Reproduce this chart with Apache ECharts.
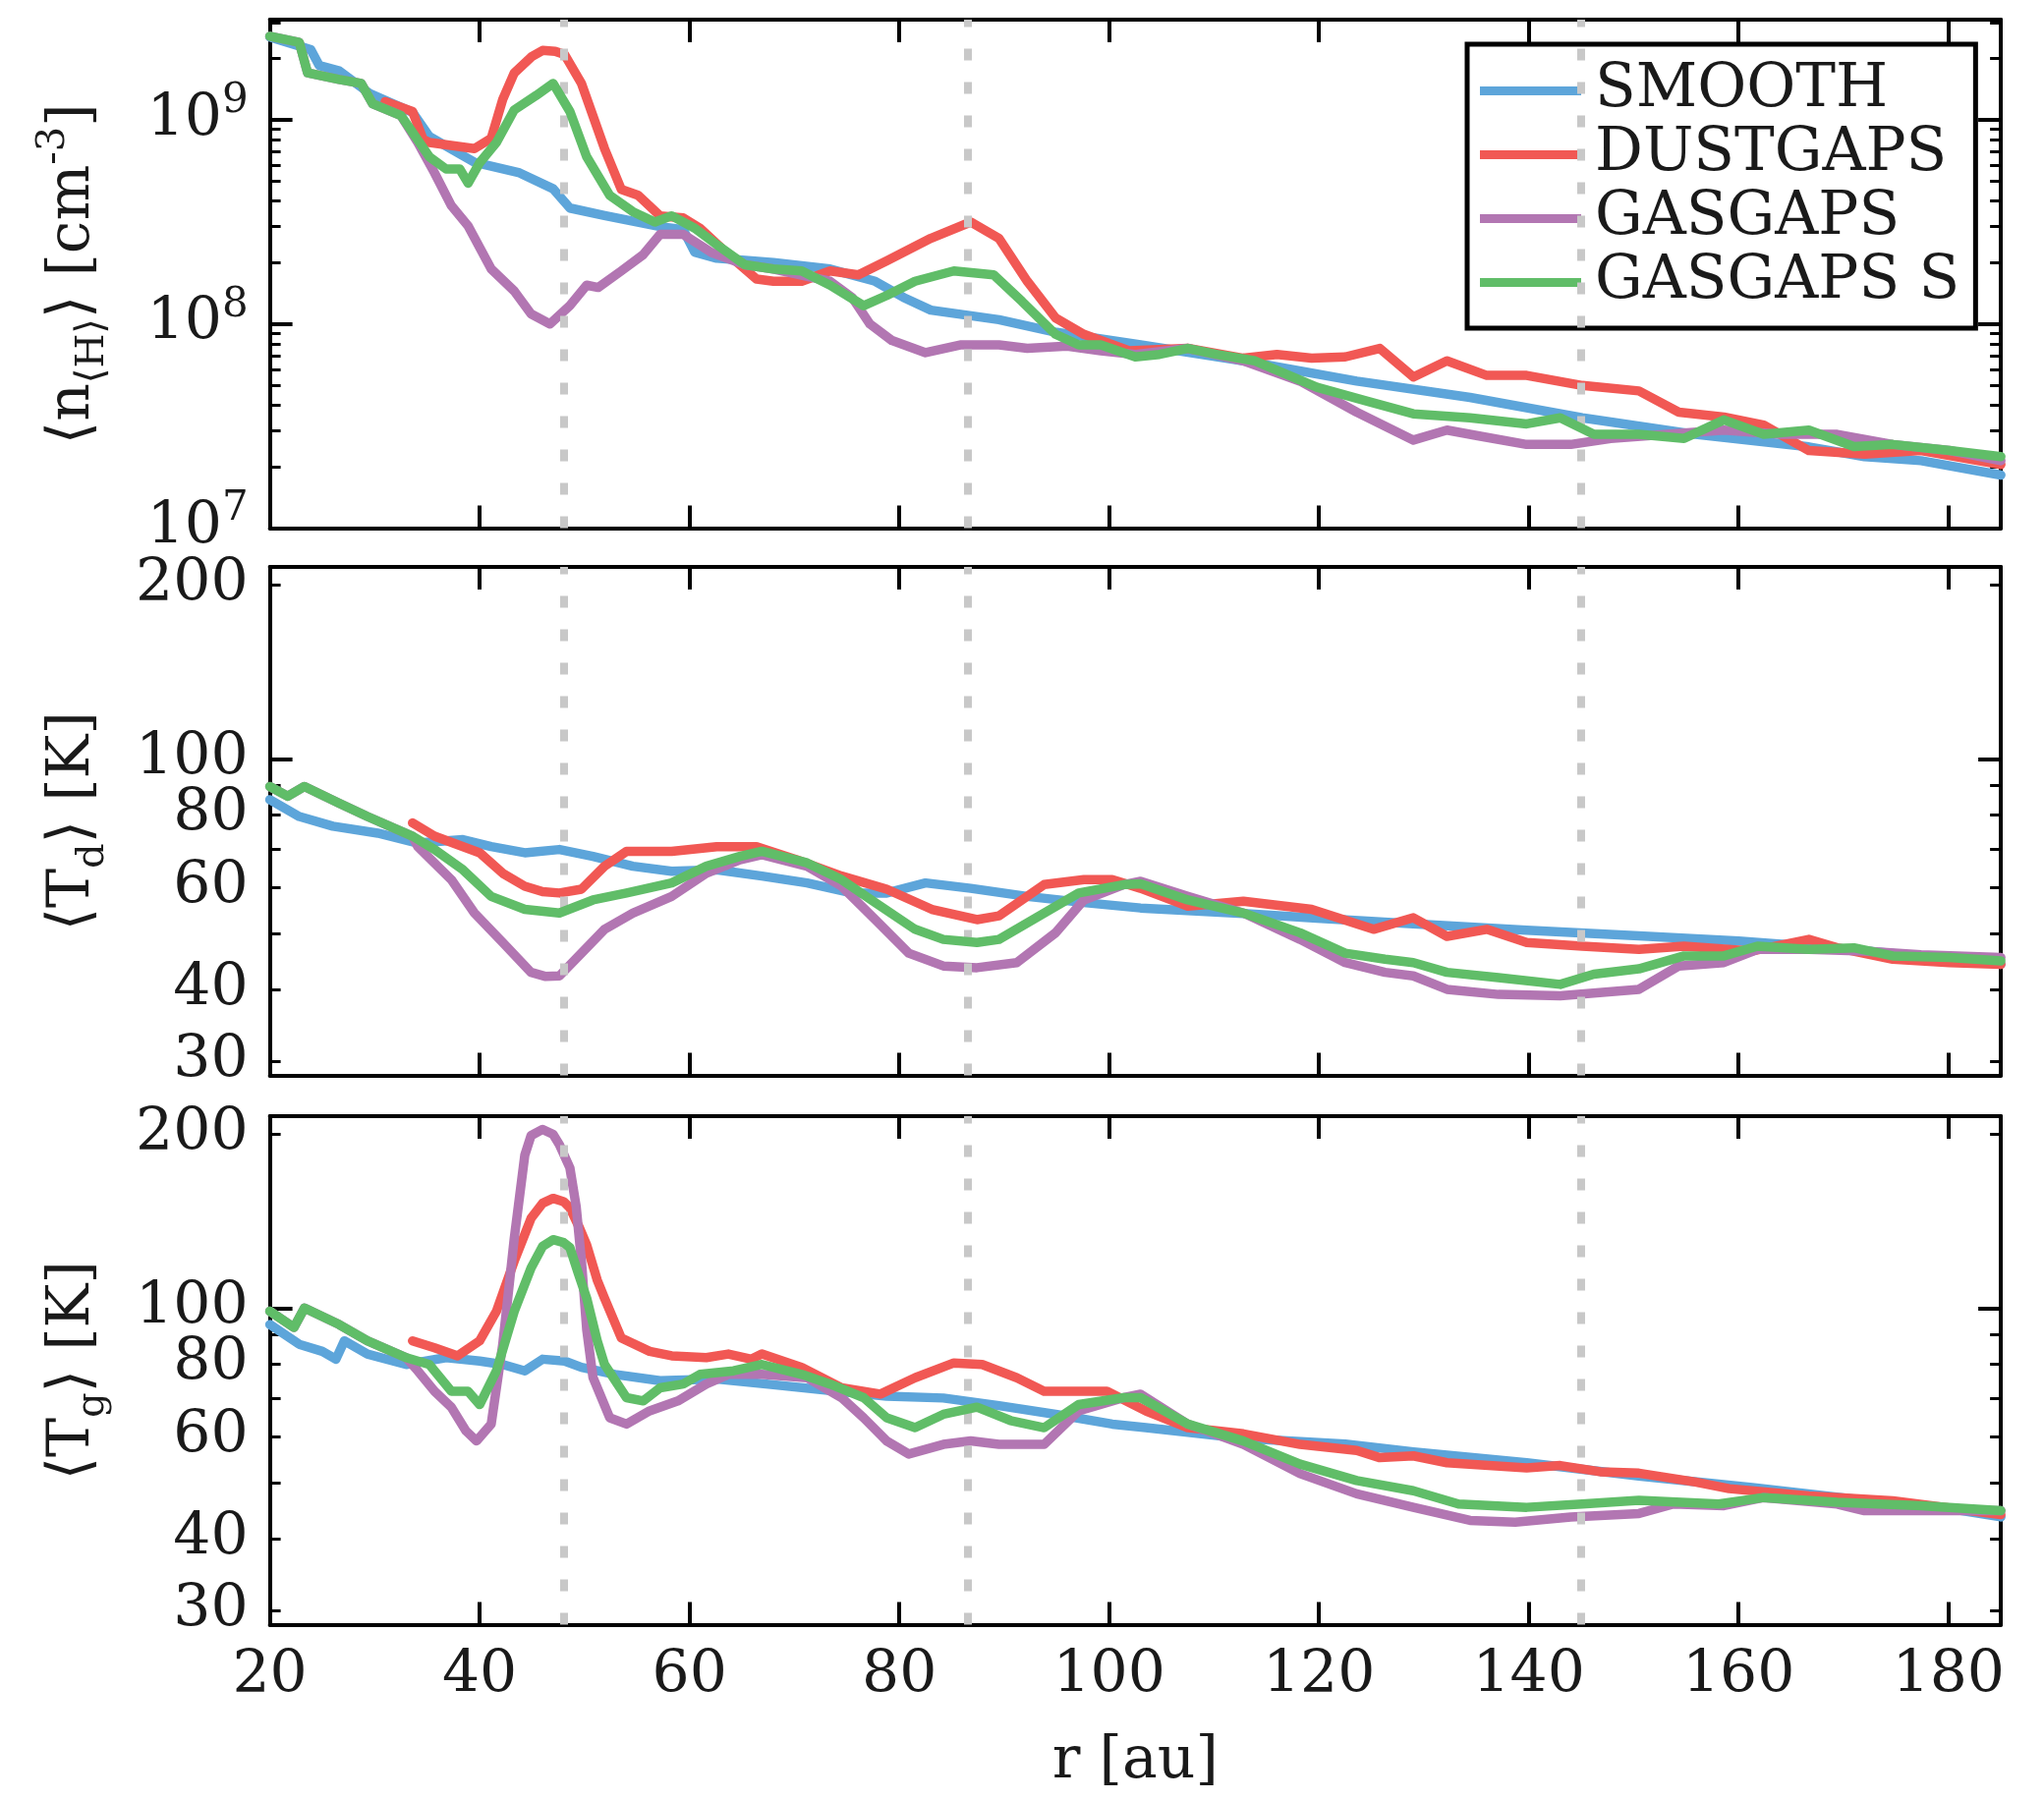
<!DOCTYPE html>
<html><head><meta charset="utf-8">
<script src="https://cdn.jsdelivr.net/npm/echarts@6/dist/echarts.min.js"></script>
<style>html,body{margin:0;padding:0;background:#fff}#c{width:2080px;height:1832px}</style>
</head><body><div id="c"></div>
<script>
// ---------------- data ----------------
const seriesNames = ['SMOOTH', 'DUSTGAPS', 'GASGAPS', 'GASGAPS S'];
const gapRadii = [48, 86.5, 145];
const xTicks = [20, 40, 60, 80, 100, 120, 140, 160, 180];
const nTickLabels = [1e7, 1e8, 1e9];
const nMajorTicks = [1e7, 1e8, 1e9];
const nMinorTicks = [2e7,3e7,4e7,5e7,6e7,7e7,8e7,9e7,2e8,3e8,4e8,5e8,6e8,7e8,8e8,9e8,2e9,3e9];
const tTickLabels = [30, 40, 60, 80, 100, 200];
const tMajorTicks = [100];
const tMinorTicks = [30, 40, 50, 60, 70, 80, 90, 200];
const nRange = [1e7, 3.1e9];
const tRange = [28.4, 215];

// <n(H)> [cm^-3]
const nH_SMOOTH = [[20,2.55e9],[23.9,2.21e9],[24.7,1.85e9],[26.6,1.74e9],[29.5,1.35e9],[33.6,1.09e9],[35.2,8.3e8],[39.5,6.2e8],[43.8,5.5e8],[47,4.6e8],[48.6,3.7e8],[51.9,3.4e8],[57.2,3.0e8],[59.4,2.9e8],[60.5,2.25e8],[62.6,2.1e8],[68,2.0e8],[73.4,1.86e8],[77.7,1.62e8],[80.4,1.35e8],[83,1.17e8],[89.5,1.05e8],[95,9.1e7],[103,7.9e7],[112.8,6.6e7],[123.6,5.25e7],[134.4,4.37e7],[145.1,3.47e7],[155.9,2.88e7],[166.7,2.5e7],[172,2.24e7],[177.4,2.14e7],[185,1.82e7]];
const nH_DUSTGAPS = [[31,1.23e9],[33.6,1.1e9],[34.6,8.05e8],[35.2,7.76e8],[39.5,7.24e8],[41.1,8.13e8],[42.2,1.26e9],[43.3,1.7e9],[45,2.05e9],[46,2.19e9],[47.2,2.17e9],[48.1,2.09e9],[49.7,1.51e9],[51.9,7.24e8],[53.5,4.57e8],[55.1,4.27e8],[57.2,3.39e8],[59.4,3.31e8],[61,2.95e8],[63.7,2.19e8],[66.4,1.66e8],[68,1.62e8],[70.7,1.62e8],[73.4,1.82e8],[76.1,1.74e8],[78.8,2.04e8],[83,2.63e8],[86.8,3.16e8],[89.5,2.63e8],[92.2,1.62e8],[94.9,1.07e8],[97.6,8.9e7],[101.9,7.4e7],[107.5,7.6e7],[112.8,6.8e7],[116,7.1e7],[119.3,6.8e7],[122.5,6.9e7],[125.8,7.6e7],[129,5.5e7],[132.2,6.6e7],[136,5.6e7],[139.8,5.6e7],[145.1,5.0e7],[150.5,4.7e7],[154.3,3.7e7],[158.6,3.5e7],[162.4,3.2e7],[166.7,2.4e7],[172,2.3e7],[177.4,2.4e7],[185,2.05e7]];
const nH_GASGAPS = [[20,2.57e9],[22.8,2.4e9],[23.6,1.7e9],[26.6,1.58e9],[28.7,1.51e9],[29.8,1.2e9],[32.5,1.05e9],[34.1,7.76e8],[35.7,5.5e8],[37.3,3.8e8],[38.9,3.02e8],[41.1,1.86e8],[43.3,1.45e8],[44.9,1.12e8],[46.7,1.0e8],[48.6,1.23e8],[50.2,1.55e8],[51.3,1.51e8],[53.5,1.82e8],[55.6,2.19e8],[57.2,2.75e8],[59.4,2.75e8],[62.1,2.24e8],[65.3,1.95e8],[68,1.86e8],[73.4,1.62e8],[75.5,1.35e8],[77.2,1.0e8],[79.3,8.3e7],[82.5,7.24e7],[85.8,7.9e7],[89.5,7.9e7],[92.2,7.6e7],[96,7.8e7],[99.2,7.4e7],[102.5,7.1e7],[107.5,7.6e7],[112.8,6.6e7],[118.2,5.25e7],[123.6,3.7e7],[129,2.7e7],[132.2,3.02e7],[135.4,2.82e7],[139.8,2.57e7],[144,2.57e7],[147.8,2.75e7],[153.2,2.88e7],[158.6,3.02e7],[164,2.88e7],[169.4,2.88e7],[174.7,2.57e7],[180.1,2.4e7],[185,2.14e7]];
const nH_GASGAPS_S = [[20,2.57e9],[22.8,2.4e9],[23.6,1.7e9],[26.6,1.58e9],[28.7,1.51e9],[29.8,1.2e9],[32.5,1.05e9],[35.2,6.6e8],[36.8,5.75e8],[38.1,5.75e8],[38.9,4.9e8],[40,6.17e8],[41.6,7.76e8],[43.3,1.12e9],[45.4,1.32e9],[47,1.51e9],[48.6,1.1e9],[50.2,6.6e8],[52.4,4.27e8],[54.6,3.55e8],[56.7,3.16e8],[58.3,3.39e8],[60.5,2.95e8],[62.6,2.45e8],[65.3,1.95e8],[68,1.86e8],[70.7,1.82e8],[73.4,1.55e8],[76.6,1.23e8],[78.8,1.38e8],[81.5,1.62e8],[85.2,1.82e8],[89,1.74e8],[91.7,1.29e8],[94.9,8.9e7],[97.1,7.9e7],[99.2,7.9e7],[102.5,6.9e7],[104.8,7.1e7],[107.5,7.6e7],[110.2,7.1e7],[113.9,6.6e7],[119.8,4.9e7],[124.7,4.17e7],[129,3.63e7],[134.4,3.47e7],[139.8,3.24e7],[143,3.47e7],[146.2,2.88e7],[150.5,2.88e7],[154.8,2.75e7],[158.6,3.39e7],[162.4,2.88e7],[166.7,3.02e7],[171,2.51e7],[174.7,2.57e7],[180.1,2.4e7],[185,2.24e7]];

// <T_d> [K]
const Td_SMOOTH = [[20,85.1],[22.8,79.6],[26,76.6],[30.3,74.5],[34.1,71.6],[38.4,72.6],[41.1,70.6],[44.3,68.9],[47.6,69.8],[50.8,67.9],[54.6,65.3],[58.3,64.0],[62.6,64.4],[66.9,62.8],[71.2,61.1],[75.5,58.7],[78.8,58.7],[82.5,61.1],[86.8,59.8],[92.2,57.9],[97.6,56.5],[103,55.3],[112.8,54.1],[119.8,53.1],[129,51.9],[139.8,50.6],[150.5,49.5],[160,48.5],[170,47.0],[180,45.2],[185,44.2]];
const Td_DUSTGAPS = [[33.6,77.6],[35.7,73.6],[40,68.9],[42.2,63.5],[44.3,60.3],[46,59.0],[47.6,58.7],[49.7,59.6],[51.9,65.3],[54,69.3],[58.3,69.3],[62.6,70.6],[66.4,70.6],[70.2,67.0],[74.5,62.8],[78.8,59.6],[83.1,55.0],[87.4,52.8],[89.5,53.6],[93.8,60.7],[97.6,61.9],[100.3,61.9],[103,59.8],[107.5,55.7],[112.8,56.8],[119.3,55.0],[125.2,50.8],[129,53.2],[132.2,49.4],[136,50.8],[139.8,48.2],[145.1,47.5],[150.5,46.9],[154.8,47.5],[161.3,46.6],[166.7,48.8],[169.4,47.2],[174.7,45.1],[180.1,44.5],[185,44.2]];
const Td_GASGAPS = [[20,89.7],[21.7,86.3],[23.3,89.7],[26.6,83.9],[29.3,79.6],[33.6,73.6],[34.1,70.6],[37.3,61.9],[39.5,54.2],[42.2,48.2],[44.9,42.8],[46.3,42.1],[47.6,42.2],[49.7,46.2],[51.9,50.8],[54.6,54.2],[58.3,57.9],[61.6,63.5],[64.8,67.0],[66.9,68.4],[71.2,65.3],[74.5,60.3],[77.7,52.8],[80.9,46.2],[84.2,43.9],[87.4,43.6],[91.2,44.5],[94.9,50.1],[97.6,57.1],[101.4,60.7],[103,61.5],[107.5,57.9],[112.8,54.2],[118.2,48.8],[122.5,44.5],[126.3,42.8],[129,42.2],[132.2,40.0],[137.1,39.2],[143,39.0],[150.5,40.0],[154.3,43.9],[158.6,44.5],[161.8,46.9],[166.7,46.9],[172,46.6],[177.4,45.9],[185,45.4]];
const Td_GASGAPS_S = [[20,89.7],[21.7,86.3],[23.3,89.7],[26.6,83.9],[29.3,79.6],[33.6,73.6],[35.7,69.8],[38.4,64.4],[41.1,57.9],[44.3,55.0],[47.6,54.2],[50.8,57.1],[54,58.7],[58.3,61.1],[61.6,65.3],[64.8,67.9],[66.9,69.3],[71.2,66.2],[74.5,61.9],[77.7,56.5],[81.5,50.8],[84.2,48.8],[87.4,48.2],[89.5,48.8],[93.8,54.2],[97.1,58.7],[101.4,60.7],[103,60.9],[107.5,57.1],[112.8,54.2],[118.2,50.1],[122.5,46.2],[126.3,45.1],[129,44.5],[132.2,42.8],[137.1,41.9],[143,40.8],[146.2,42.5],[150.5,43.4],[154.8,45.7],[158.6,45.7],[161.8,47.5],[166.7,46.9],[171,47.2],[174.7,45.7],[180.1,45.4],[185,44.8]];

// <T_g> [K]
const Tg_SMOOTH = [[20,93.8],[22.8,86.7],[25,84.3],[26.3,81.7],[27.1,87.9],[29.3,83.4],[33,80.0],[36.8,82.2],[40,81.1],[42.2,80.0],[44.3,78.0],[46,81.7],[48.1,81.1],[49.7,79.1],[52.9,76.9],[57.2,75.0],[62.6,75.5],[68,73.8],[73.4,72.1],[78.8,70.5],[84.2,70.0],[89.5,67.9],[94.9,65.6],[100.3,63.1],[103.5,62.2],[112.8,59.6],[122.5,58.3],[129,56.5],[139.8,54.1],[150.5,51.3],[161.3,49.0],[172,46.6],[180,45.1],[185,43.6]];
const Tg_DUSTGAPS = [[33.6,87.9],[35.7,85.5],[37.9,82.8],[40,87.9],[41.6,98.9],[43.3,120.8],[44.9,143.2],[46,152],[47,155],[48,153],[48.6,149.3],[49.5,138],[50.2,128.8],[51.2,112],[51.9,104.2],[53.5,88.9],[56.2,84.3],[58.3,82.8],[61.6,82.2],[63.7,83.4],[65.9,81.7],[66.9,83.4],[70.7,79.1],[74.5,72.9],[78.2,71.1],[81.5,75.9],[85.2,80.5],[87.9,80.0],[91.2,75.9],[93.8,71.9],[97.1,71.9],[99.8,71.9],[103.5,66.5],[107.5,62.2],[112.8,60.7],[118.2,58.2],[123.6,56.8],[125.8,55.2],[129,55.6],[132.2,54.1],[139.8,53.0],[143,53.5],[146.8,52.2],[150.5,51.9],[155.9,50.1],[159.1,48.8],[166.7,47.4],[174.7,46.5],[185,44.0]];
const Tg_GASGAPS = [[20,98.9],[22.3,92.7],[23.3,100.2],[26.6,93.8],[29.3,87.9],[33,82.2],[34.1,78.0],[35.7,71.9],[37.3,67.5],[38.7,61.4],[39.7,59.0],[41.1,63.1],[42.2,86.7],[43.3,132.4],[44.3,184],[44.9,199],[46,204],[47,200],[47.6,192],[48.6,175],[49.2,150],[49.7,121],[50.2,92],[50.8,76],[52.4,64.7],[54,63.1],[56.2,66.5],[58.9,69.2],[61.6,74.0],[63.7,76.9],[66.9,76.9],[71.2,75.9],[74.5,70.1],[76.6,64.7],[78.8,59.0],[80.9,56.0],[84.2,58.2],[86.8,59.0],[89.5,58.2],[93.8,58.2],[97.1,66.5],[101.4,70.1],[103,71.1],[107.5,63.1],[112.8,58.2],[118.2,51.8],[123.6,47.8],[129,45.3],[134.4,43.0],[138.7,42.7],[144,43.6],[150.5,44.2],[153.8,45.9],[158.6,45.6],[162.4,47.1],[169.4,45.9],[172,44.7],[185,44.7]];
const Tg_GASGAPS_S = [[20,98.9],[22.3,92.7],[23.3,100.2],[26.6,93.8],[29.3,87.9],[33,82.2],[35.2,80.0],[37.3,71.9],[38.9,71.9],[40,68.2],[41.6,78.0],[43.3,98.9],[44.9,117.5],[46,128],[47,131.5],[48,130],[48.6,127.4],[49.4,115],[50.2,104.2],[51.2,88],[51.9,80.0],[54,70.1],[55.6,69.2],[57.2,72.9],[59.4,74.0],[61,76.9],[64.2,78.0],[66.9,80.0],[70.7,76.9],[73.4,74.0],[76.6,70.1],[78.8,64.7],[81.5,62.2],[84.2,65.6],[87.4,67.5],[90.6,64.0],[93.8,62.2],[97.1,68.2],[101.4,70.1],[103,70.1],[107.5,63.1],[112.8,59.0],[118.2,53.8],[123.6,50.4],[129,48.4],[133.3,45.9],[139.8,45.3],[145.1,45.9],[150.5,46.6],[158.1,45.9],[162.4,47.1],[169.4,46.2],[177.4,45.6],[185,44.7]];

// ---------------- chart ----------------
const colors = ['#5DA5DA', '#F15854', '#B276B2', '#60BD68'];
const FONT = 'DejaVu Serif';
const TXT = '#1a1a1a';
const gridLeft = 274.6, gridWidth = 1761.5, gridHeight = 517.5;
const gridTops = [20, 577, 1136];

const powFmt = v => '{a|10}{b|' + Math.round(Math.log10(v)) + '}';
const intFmt = v => String(Math.round(v));

const panels = [
  { data: [nH_SMOOTH, nH_DUSTGAPS, nH_GASGAPS, nH_GASGAPS_S], range: nRange,
    labels: nTickLabels, major: nMajorTicks, minor: nMinorTicks, fmt: powFmt,
    name: '⟨n{s|⟨H⟩}⟩ [cm{p|-3}]' },
  { data: [Td_SMOOTH, Td_DUSTGAPS, Td_GASGAPS, Td_GASGAPS_S], range: tRange,
    labels: tTickLabels, major: tMajorTicks, minor: tMinorTicks, fmt: intFmt,
    name: '⟨T{s|d}⟩ [K]' },
  { data: [Tg_SMOOTH, Tg_DUSTGAPS, Tg_GASGAPS, Tg_GASGAPS_S], range: tRange,
    labels: tTickLabels, major: tMajorTicks, minor: tMinorTicks, fmt: intFmt,
    name: '⟨T{s|g}⟩ [K]' }
];

const option = {
  animation: false,
  backgroundColor: '#fff',
  grid: [], xAxis: [], yAxis: [], series: [],
  legend: {
    data: seriesNames, orient: 'vertical', left: 1493, top: 45,
    padding: [15, 16, 14, 13], itemGap: 0, itemWidth: 103, itemHeight: 9, icon: 'rect',
    borderColor: '#000', borderWidth: 5, backgroundColor: '#fff', borderRadius: 0,
    selectedMode: false,
    textStyle: { fontFamily: FONT, fontSize: 61, color: TXT, lineHeight: 65, padding: [0, 0, 0, 9] }
  }
};

const spine = { show: true, onZero: false, lineStyle: { color: '#000', width: 4 } };

panels.forEach((p, g) => {
  option.grid.push({ left: gridLeft, top: gridTops[g], width: gridWidth, height: gridHeight,
                     containLabel: false, outerBoundsMode: 'none' });
  const xBase = { gridIndex: g, type: 'value', min: 20, max: 185, splitLine: { show: false },
    axisLine: spine,
    axisTick: { show: true, inside: true, length: 23, lineStyle: { color: '#000', width: 4 }, customValues: xTicks } };
  option.xAxis.push(Object.assign({}, xBase, {
    position: 'bottom',
    axisLabel: { show: g === 2, customValues: xTicks, margin: 23, fontFamily: FONT, fontSize: 60, color: TXT },
    name: g === 2 ? 'r [au]' : '', nameLocation: 'middle', nameGap: 110,
    nameTextStyle: { fontFamily: FONT, fontSize: 60, color: TXT }
  }));
  option.xAxis.push(Object.assign({}, xBase, { position: 'top', axisLabel: { show: false } }));

  const yBase = { gridIndex: g, type: 'log', logBase: 10, min: p.range[0], max: p.range[1],
                  splitLine: { show: false }, axisLine: spine };
  const majorTick = { show: true, inside: true, length: 23, lineStyle: { color: '#000', width: 4 }, customValues: p.major };
  const minorTick = { show: true, inside: true, length: 11, lineStyle: { color: '#000', width: 3 }, customValues: p.minor };
  option.yAxis.push(Object.assign({}, yBase, {
    position: 'left', axisTick: majorTick,
    axisLabel: { show: true, customValues: p.labels, margin: 22, formatter: p.fmt,
      fontFamily: FONT, fontSize: 60, color: TXT,
      rich: { a: { fontFamily: FONT, fontSize: 60, color: TXT, lineHeight: 80 },
              b: { fontFamily: FONT, fontSize: 42, color: TXT, lineHeight: 42, verticalAlign: 'top' } } },
    name: p.name, nameLocation: 'middle', nameRotate: 90, nameGap: 160,
    nameTextStyle: { fontFamily: FONT, fontSize: 60, color: TXT, lineHeight: 80,
      rich: { s: { fontFamily: FONT, fontSize: 40, color: TXT, lineHeight: 40, verticalAlign: 'bottom' },
              p: { fontFamily: FONT, fontSize: 40, color: TXT, lineHeight: 40, verticalAlign: 'top' } } }
  }));
  option.yAxis.push(Object.assign({}, yBase, { position: 'left', axisLine: { show: false }, axisTick: minorTick, axisLabel: { show: false } }));
  option.yAxis.push(Object.assign({}, yBase, { position: 'right', axisTick: majorTick, axisLabel: { show: false } }));
  option.yAxis.push(Object.assign({}, yBase, { position: 'right', axisLine: { show: false }, axisTick: minorTick, axisLabel: { show: false } }));

  // dotted gap markers
  option.series.push({
    type: 'line', data: [], xAxisIndex: g * 2, yAxisIndex: g * 4, z: 1, silent: true,
    markLine: { symbol: ['none', 'none'], silent: true, animation: false, label: { show: false },
      lineStyle: { color: '#c8c8c8', width: 8, type: [12, 22] },
      data: gapRadii.map(r => ({ xAxis: r })) }
  });
  p.data.forEach((d, i) => {
    option.series.push({
      type: 'line', name: seriesNames[i], data: d, xAxisIndex: g * 2, yAxisIndex: g * 4,
      color: colors[i], showSymbol: false, symbol: 'none', silent: true, z: 2 + i,
      lineStyle: { width: 9.5, color: colors[i], cap: 'round', join: 'round' }
    });
  });
});

const chart = echarts.init(document.getElementById('c'), null, { renderer: 'canvas', width: 2080, height: 1832 });
chart.setOption(option);
</script>
</body></html>
